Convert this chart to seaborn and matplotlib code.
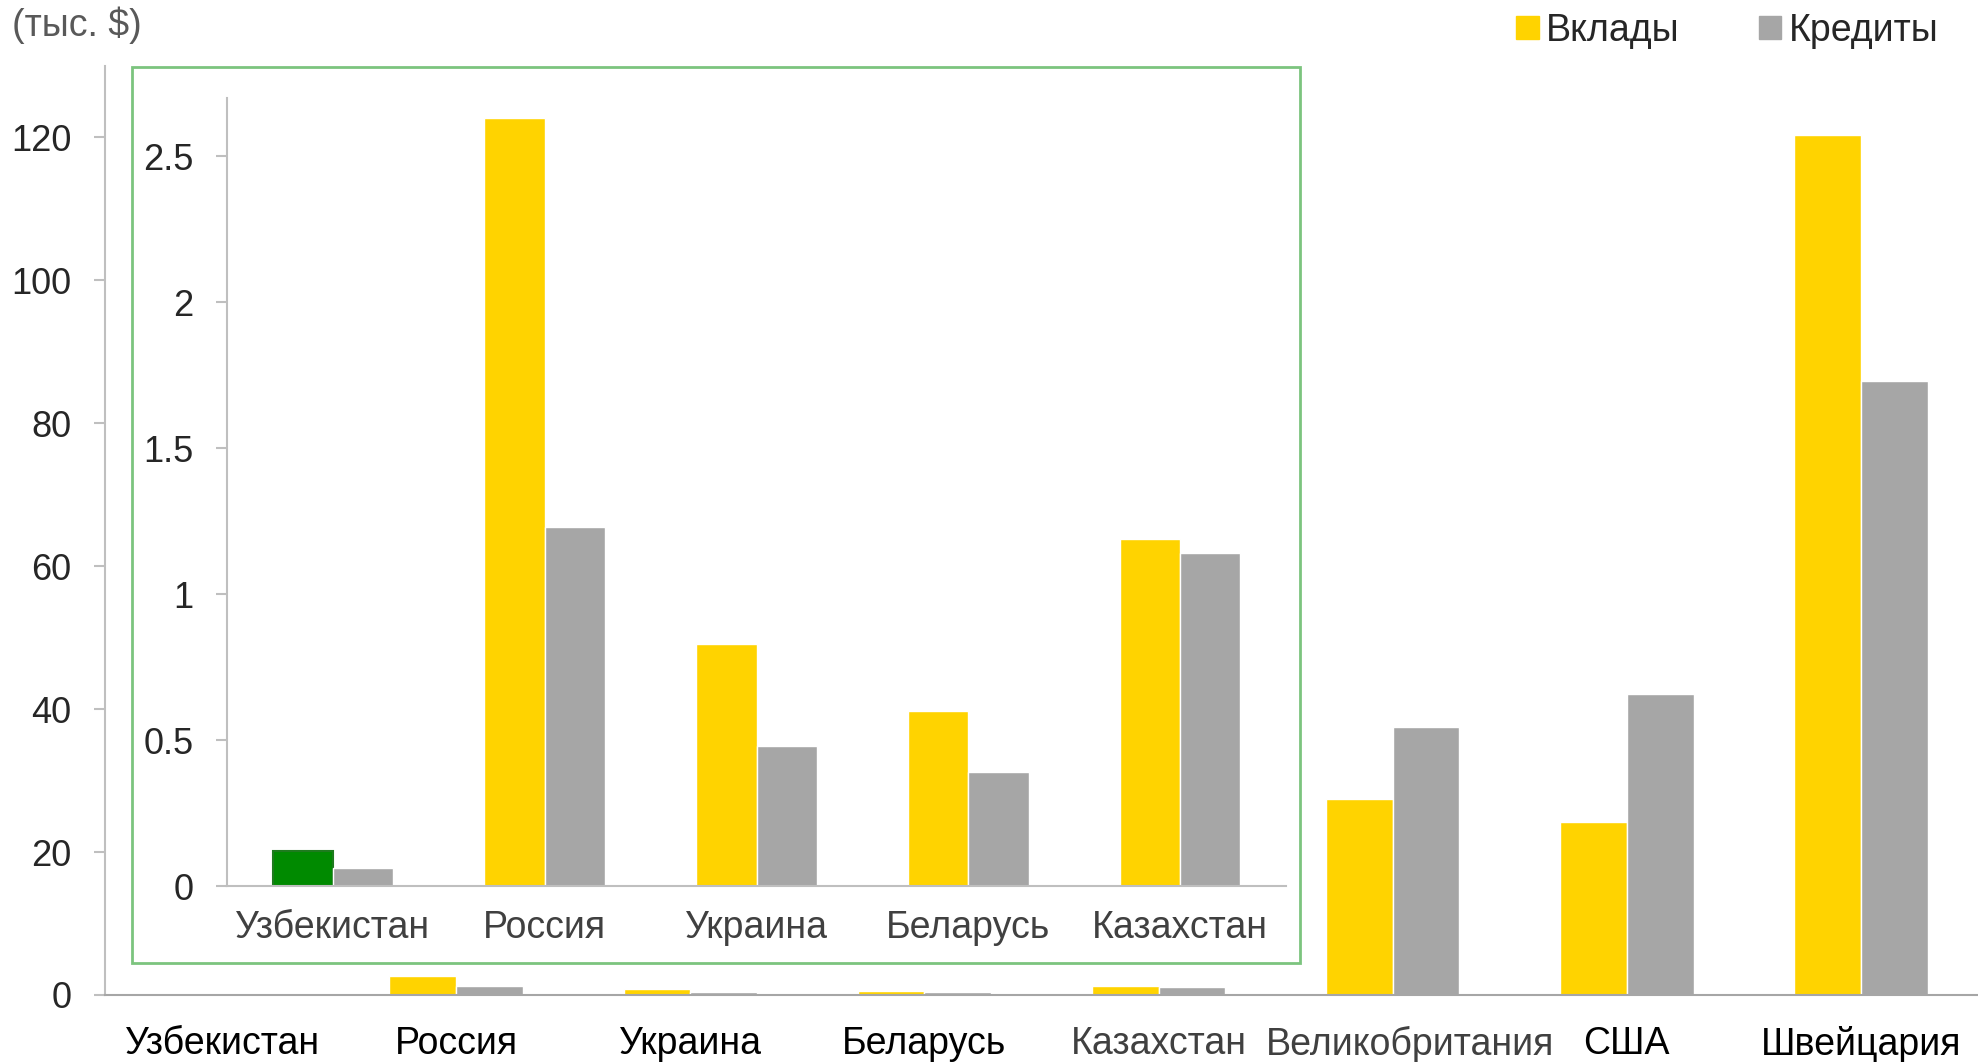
import pandas as pd
import matplotlib.pyplot as plt
import matplotlib.transforms as mtransforms
import seaborn as sns
from matplotlib.patches import Rectangle

# Données (тыс. $)
countries = ['Узбекистан', 'Россия', 'Украина', 'Беларусь', 'Казахстан',
             'Великобритания', 'США', 'Швейцария']
deposits = [0.12, 2.63, 0.83, 0.60, 1.19, 27.4, 24.2, 120.4]
loans = [0.06, 1.23, 0.48, 0.39, 1.14, 37.5, 42.1, 85.9]
series = ['Вклады', 'Кредиты']

inset_countries = countries[:5]

df = pd.DataFrame({
    'country': countries * 2,
    'value': deposits + loans,
    'series': [series[0]] * len(countries) + [series[1]] * len(countries),
})
df_inset = df[df['country'].isin(inset_countries)]

palette = {'Вклады': '#FFD300', 'Кредиты': '#A6A6A6'}

sns.set_style('white')
plt.rcParams['font.family'] = ['Liberation Sans', 'DejaVu Sans']

W, H = 1978, 1062
fig = plt.figure(figsize=(W / 100, H / 100), dpi=100)

def fig_rect(x0, y0, x1, y1):
    # pixels (top-left origin) -> figure fraction
    return [x0 / W, 1 - y1 / H, (x1 - x0) / W, (y1 - y0) / H]

# --- graphique principal ---
ax = fig.add_axes(fig_rect(105, 66, 1978, 995))
sns.barplot(data=df, x='country', y='value', hue='series', order=countries,
            hue_order=series, palette=palette, width=0.57, saturation=1,
            ax=ax, legend=False)
ax.set_xlim(-0.5, len(countries) - 0.5)
ax.set_ylim(0, 130)
ax.set_yticks([0, 20, 40, 60, 80, 100, 120])
ax.set_xlabel('')
ax.set_ylabel('')
for s in ['top', 'right']:
    ax.spines[s].set_visible(False)
ax.spines['left'].set_color('#BFBFBF')
ax.spines['bottom'].set_color('#A6A6A6')
ax.spines['left'].set_linewidth(1.5)
ax.spines['bottom'].set_linewidth(1.5)
ax.tick_params(axis='y', length=8, width=1.5, color='#BFBFBF', labelsize=26,
               pad=16, left=True)
ax.tick_params(axis='x', length=0, labelsize=27, pad=22)
gray_labels = {'Казахстан', 'Великобритания'}
shift = mtransforms.ScaledTranslation(0.17, 0, fig.dpi_scale_trans)
for lab in ax.get_xticklabels():
    lab.set_color('#404040' if lab.get_text() in gray_labels else 'black')
    if lab.get_text() == 'Великобритания':
        lab.set_transform(lab.get_transform() + shift)

# --- cadre vert de l'encart ---
fig.patches.append(Rectangle((132 / W, 1 - 963 / H), (1300 - 132) / W,
                             (963 - 67) / H, transform=fig.transFigure,
                             fill=True, facecolor='white', edgecolor='#7CC47E',
                             linewidth=2, zorder=5))

# --- encart ---
axi = fig.add_axes(fig_rect(227, 98, 1286, 886), zorder=10)
axi.patch.set_alpha(0)
sns.barplot(data=df_inset, x='country', y='value', hue='series',
            order=inset_countries, hue_order=series, palette=palette,
            width=0.57, saturation=1, ax=axi, legend=False)
axi.set_xlim(-0.5, len(inset_countries) - 0.5)
axi.set_ylim(0, 2.7)
axi.set_yticks([0, 0.5, 1, 1.5, 2, 2.5])
axi.set_yticklabels(['0', '0.5', '1', '1.5', '2', '2.5'])
axi.set_xlabel('')
axi.set_ylabel('')
for s in ['top', 'right']:
    axi.spines[s].set_visible(False)
axi.spines['left'].set_color('#BFBFBF')
axi.spines['bottom'].set_color('#BFBFBF')
axi.spines['left'].set_linewidth(1.5)
axi.spines['bottom'].set_linewidth(1.5)
axi.tick_params(axis='y', length=8, width=1.5, color='#BFBFBF', labelsize=26,
                pad=16, left=True)
axi.tick_params(axis='x', length=0, labelsize=27, pad=17, labelcolor='#404040')

# Узбекистан mis en évidence en vert
uz_bar = axi.patches[0]
uz_bar.set_facecolor('#008A00')
uz_bar.set_edgecolor('#1E7B1E')
uz_bar.set_linewidth(1.5)

# --- titre / unité ---
fig.text(12 / W, 1 - 25 / H, '(тыс. $)', fontsize=27, color='#595959',
         va='center', ha='left')

# --- légende ---
handles = [Rectangle((0, 0), 1, 1, color=palette[s]) for s in series]
fig.legend(handles, series, loc='upper right', bbox_to_anchor=(1972 / W, 1 + 21 / H),
           ncol=2, frameon=False, fontsize=27, handlelength=0.6,
           handleheight=0.6, handletextpad=0.2, columnspacing=2.1)

fig.savefig('out.png', dpi=100)
